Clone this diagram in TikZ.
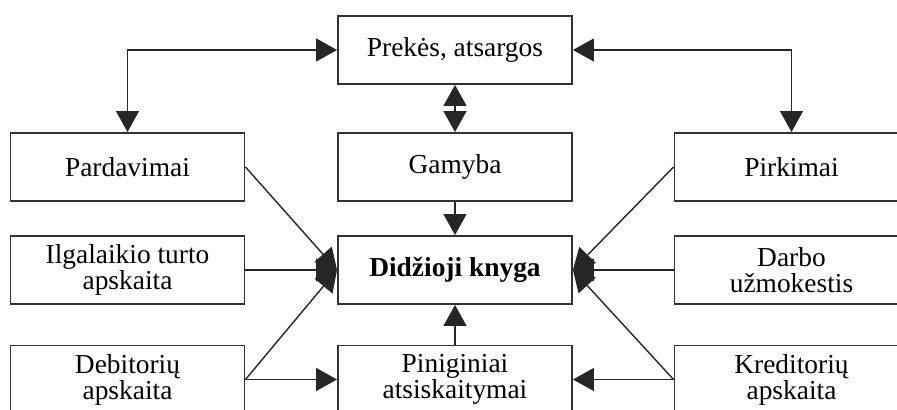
\documentclass[tikz,border=0pt]{standalone}
\usepackage{fontspec}
\setmainfont{Liberation Serif}
\usepackage{tikz}
\usetikzlibrary{arrows.meta, positioning}

\begin{document}
\begin{tikzpicture}[
    block/.style={draw=black!80, line width=1.1pt, fill=white, minimum width=4.68cm, minimum height=1.36cm, inner sep=2pt, align=center, font=\fontsize{15.6pt}{14.8pt}\selectfont},
    link/.style={draw=black!85, line width=0.8pt},
    tip/.style={-{Triangle[length=0.42cm, width=0.46cm]}}]

    \clip (0,0) rectangle (17.94,8.2);

    % Blocks
    \node[block] (prekes) at (9.1,7.2) {Prekės, atsargos};
    \node[block] (pardavimai) at (2.55,4.86) {Pardavimai};
    \node[block] (gamyba) at (9.1,4.86) {Gamyba};
    \node[block] (pirkimai) at (15.83,4.86) {Pirkimai};
    \node[block] (ilgalaikis) at (2.55,2.8) {Ilgalaikio turto\\apskaita};
    \node[block] (knyga) at (9.1,2.8) {\textbf{Didžioji knyga}};
    \node[block] (darbo) at (15.83,2.8) {Darbo\\užmokestis};
    \node[block] (debitoriai) at (2.55,0.61) {Debitorių\\apskaita};
    \node[block] (piniginiai) at (9.1,0.61) {Piniginiai\\atsiskaitymai};
    \node[block] (kreditoriai) at (15.83,0.61) {Kreditorių\\apskaita};

    % Arrows
    \draw[link, {Triangle[length=0.42cm, width=0.46cm]}-{Triangle[length=0.42cm, width=0.46cm]}] (pardavimai.north) |- (prekes.west);
    \draw[link, {Triangle[length=0.42cm, width=0.46cm]}-{Triangle[length=0.42cm, width=0.46cm]}] (prekes.east) -| (pirkimai.north);
    \draw[link, {Triangle[length=0.42cm, width=0.46cm]}-{Triangle[length=0.42cm, width=0.46cm]}] (prekes.south) -- (gamyba.north);
    \draw[link, tip] (gamyba) -- (knyga);
    \draw[link, tip] (piniginiai) -- (knyga);

    \draw[link, tip] (pardavimai.east) -- (knyga.west);
    \draw[link, tip] (ilgalaikis.east) -- (knyga.west);
    \draw[link, tip] (debitoriai.east) -- (knyga.west);
    \draw[link, tip] (debitoriai.east) -- (piniginiai.west);

    \draw[link, tip] (pirkimai.west) -- (knyga.east);
    \draw[link, tip] (darbo.west) -- (knyga.east);
    \draw[link, tip] (kreditoriai.west) -- (knyga.east);
    \draw[link, tip] (kreditoriai.west) -- (piniginiai.east);
\end{tikzpicture}
\end{document}
